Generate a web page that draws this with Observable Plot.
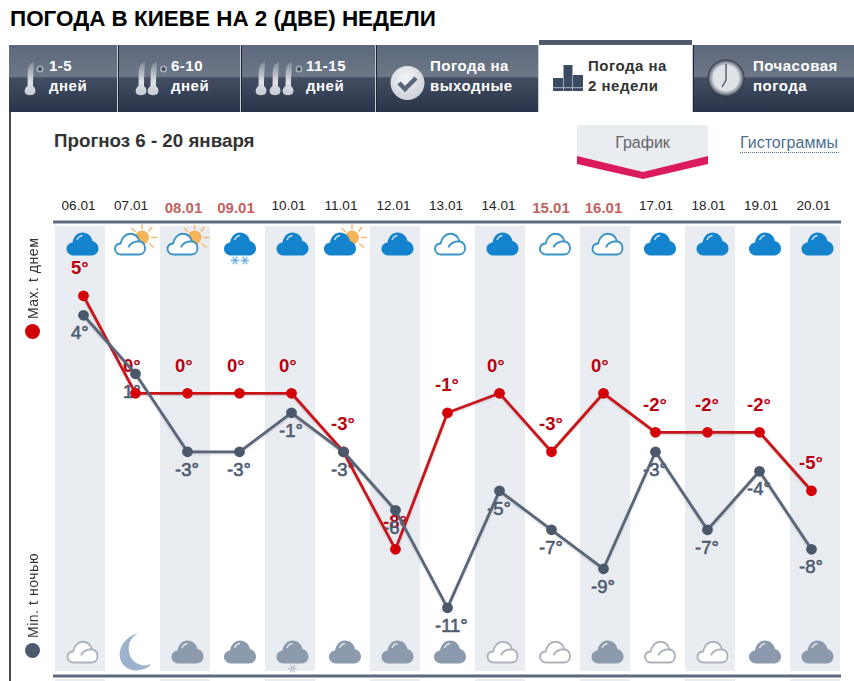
<!DOCTYPE html>
<html lang="ru">
<head>
<meta charset="utf-8">
<script src="https://cdn.jsdelivr.net/npm/d3@7"></script>
<script src="https://cdn.jsdelivr.net/npm/@observablehq/plot@0.6"></script>
<style>
html,body{margin:0;padding:0;background:#fff;}
#page{position:relative;width:854px;height:681px;overflow:hidden;font-family:"Liberation Sans",Arial,sans-serif;}
#page>svg,#page>div{position:absolute;}
h1{position:absolute;left:10px;top:6px;margin:0;font-size:22.45px;font-weight:bold;color:#000;line-height:26px;white-space:nowrap;}
.vlabel{left:25px;width:16px;writing-mode:vertical-rl;transform:rotate(180deg);font-size:14px;letter-spacing:.55px;color:#333;white-space:nowrap;line-height:16px;text-align:left;}
.ldot{left:25px;width:15px;height:15px;border-radius:50%;}
.tt{font:bold 15px "Liberation Sans",Arial,sans-serif;fill:#fff;letter-spacing:.5px;}
svg [aria-label="line"]{filter:drop-shadow(0 1.5px 1.2px rgba(40,50,70,.22));}
</style>
</head>
<body>
<div id="page">
<h1>ПОГОДА В КИЕВЕ НА 2 (ДВЕ) НЕДЕЛИ</h1>
<div style="left:9px;top:111px;width:1.5px;height:570px;background:#4a4a4a"></div>
<svg width="854" height="185" style="left:0;top:0">
 <defs>
  <linearGradient id="tab" x1="0" y1="0" x2="0" y2="1">
   <stop offset="0" stop-color="#5c687b"/><stop offset=".47" stop-color="#6d7788"/>
   <stop offset=".49" stop-color="#434e63"/><stop offset="1" stop-color="#293349"/>
  </linearGradient>
  <linearGradient id="th" x1="0" y1="0" x2="0" y2="1"><stop offset="0" stop-color="#7f8895"/><stop offset=".6" stop-color="#dfe2e6"/><stop offset="1" stop-color="#c6cbd2"/></linearGradient>
  <radialGradient id="ck" cx=".45" cy=".35" r=".7"><stop offset="0" stop-color="#f4f5f6"/><stop offset="1" stop-color="#c9ced5"/></radialGradient>
  <radialGradient id="cl" cx=".5" cy=".5" r=".5"><stop offset=".72" stop-color="#c9ced5"/><stop offset=".88" stop-color="#7f8692"/><stop offset="1" stop-color="#232b3a"/></radialGradient>
  <symbol id="therm" overflow="visible"><path d="M-2.5 21 C-2 12 -3 5 -1 1 C0 -1.5 2 -3 4 -3 C3.5 5 3 14 3 21 C5.5 23 6 25 5 28 C3.5 31 -3.5 31 -5 28 C-6 25 -5 23 -2.5 21Z" fill="url(#th)"/></symbol>
 </defs>
 <rect x="9" y="45" width="845" height="67" fill="url(#tab)"/>
 <g stroke="#c7ccd3" stroke-width="1"><path d="M117.5 45V112M240.5 45V112M375.5 45V112M538.5 45V112M692.5 45V112"/></g>
 <g stroke="#1f2738" stroke-width="1"><path d="M118.5 45V112M241.5 45V112M376.5 45V112M693.5 45V112"/></g>
 <rect x="539" y="45" width="153" height="68" fill="#fff"/>
 <rect x="539" y="40" width="153" height="5" fill="#4e5a6d"/>
 <g>
  <use href="#therm" x="30" y="65"/>
  <use href="#therm" x="141" y="65"/><use href="#therm" x="153" y="65"/>
  <use href="#therm" x="261" y="65"/><use href="#therm" x="275" y="65"/><use href="#therm" x="288" y="65"/>
  <g fill="#3f4a5c" stroke="#a9afb9" stroke-width="1.6"><circle cx="40" cy="69" r="2.7"/><circle cx="163.5" cy="69" r="2.7"/><circle cx="299" cy="69" r="2.7"/></g>
 </g>
 <circle cx="407.5" cy="83" r="17" fill="url(#ck)"/>
 <path d="M399 83l6 6 11-11" fill="none" stroke="#55657a" stroke-width="4.5"/>
 <g fill="#3a4a60"><rect x="553" y="78" width="10" height="13"/><rect x="563.5" y="65" width="9" height="26"/><rect x="573" y="75" width="10" height="16"/></g>
 <rect x="553" y="87" width="30" height="1.2" fill="#9ba5b2"/>
 <circle cx="726" cy="78" r="18.5" fill="url(#cl)"/>
 <circle cx="726" cy="78" r="13" fill="#dfe2e6"/>
 <path d="M726 64V80L722 87" fill="none" stroke="#5a6474" stroke-width="1.5"/>
 <g class="lbl">
  <text class="tt" x="49" y="71">1-5</text><text class="tt" x="49" y="90.5">дней</text>
  <text class="tt" x="171" y="71">6-10</text><text class="tt" x="171" y="90.5">дней</text>
  <text class="tt" x="306" y="71">11-15</text><text class="tt" x="306" y="90.5">дней</text>
  <text class="tt" x="430" y="71">Погода на</text><text class="tt" x="430" y="90.5">выходные</text>
  <text class="tt" x="588" y="71" style="fill:#333">Погода на</text><text class="tt" x="588" y="90.5" style="fill:#333">2 недели</text>
  <text class="tt" x="753" y="71">Почасовая</text><text class="tt" x="753" y="90.5">погода</text>
 </g>
 <text x="54" y="146.5" style="font:bold 18.75px 'Liberation Sans',Arial,sans-serif;fill:#333">Прогноз 6 - 20 января</text>
 <path d="M577 125H708V158L643 173L577 158Z" fill="#e9ecf1"/>
 <path d="M577 156L643 172L708 156V164L643 179L577 164Z" fill="#dc1a5e"/>
 <text x="642.5" y="148" text-anchor="middle" style="font:16px 'Liberation Sans',Arial,sans-serif;fill:#666">График</text>
 <text x="740" y="148" style="font:16px 'Liberation Sans',Arial,sans-serif;fill:#4d6f90">Гистограммы</text>
 <path d="M740 152.5H839" stroke="#4d6f90" stroke-width="1" stroke-dasharray="1 1"/>
</svg>
<div class="vlabel" style="top:238px;height:81px">Max. t днем</div>
<div class="ldot" style="top:323.5px;background:#cf0005"></div>
<div class="vlabel" style="top:555px;height:83px">Min. t ночью</div>
<div class="ldot" style="top:642.5px;background:#4c596e"></div>
</div>
<script>
const dates = ["06.01","07.01","08.01","09.01","10.01","11.01","12.01","13.01","14.01","15.01","16.01","17.01","18.01","19.01","20.01"];
const holidays = ["08.01","09.01","15.01","16.01"];
const maxTemp = [5,0,0,0,0,-3,-8,-1,0,-3,0,-2,-2,-2,-5];
const minTemp = [4,1,-3,-3,-1,-3,-6,-11,-5,-7,-9,-3,-7,-4,-8];
const dayIcons = ["fill","sunOutline","sunOutline","snow","fill","sunFill","fill","outline","fill","outline","outline","fill","fill","fill","fill"];
const nightIcons = ["nOutline","moon","nFill","nFill","nSnow","nFill","nFill","nFill","nOutline","nOutline","nFill","nOutline","nOutline","nFill","nFill"];

const cloud = "M7 23C3 23 0 20 0 16.5C0 13 2.5 10.5 6 10C7 4 11 0 16 0C21 0 25 3.5 26 8.5C29.5 9.5 32 12.5 32 16C32 20 29 23 25 23Z";
const outline = "M7 22C3.5 22 1 19.5 1 16.5C1 13.5 3.2 11.3 6.6 11C7.6 5.5 11.5 1.2 16 1.2C20.5 1.2 24.2 4.2 25.4 8.7C28.8 9.4 31 12.3 31 15.8C31 19.5 28.3 22 25 22ZM14.5 14.8C16 11 20 8.7 25.4 8.7";
const shine = "M10.5 7.5C11.5 5 13.5 3.4 16 3";
const flake = (x,y,c)=>`<g transform="translate(${x} ${y})" stroke="${c}" stroke-width="1.3" fill="none"><path d="M-4.2 0H4.2M-2.2 -3.8L2.2 3.8M-2.2 3.8L2.2 -3.8"/></g>`;
const sun = `<g stroke="#f7b973" stroke-width="1.6"><path d="M28 0V5M38 2.5L34.5 7M43 13H37M40 23L35 19M17.5 3.5L21.5 7.5"/></g><circle cx="28" cy="13" r="7" fill="#f6b458"/>`;
// every icon is a 48x48 box; plain clouds sit in its middle
const at = (dx,dy,s)=>`<g transform="translate(${dx} ${dy})">${s}</g>`;
const filled = (c)=>`<path d="${cloud}" fill="${c}"/><path d="${shine}" stroke="#fff" stroke-opacity=".75" stroke-width="1.4" fill="none"/>`;
const hollow = (c)=>`<path d="${outline}" fill="#fff" stroke="${c}" stroke-width="1.9"/>`;
const iconBody = {
  fill: at(8,12.5,filled("#1283cc")),
  outline: at(8,12.5,hollow("#3b93c8")),
  sunOutline: at(3,4.5,sun+at(0,8,hollow("#3b93c8"))),
  sunFill: at(3,4.5,sun+at(0,8,filled("#1283cc"))),
  snow: at(8,12.5,filled("#1283cc")+flake(11,28,"#6fb6e6")+flake(21,28,"#6fb6e6")),
  nFill: at(8,12.5,filled("#8b9aad")),
  nOutline: at(8,12.5,hollow("#adb3bd")),
  nSnow: at(8,12.5,filled("#8b9aad")+flake(16,28,"#bcc5d0")),
  moon: `<path d="M27 5C14 9 7 20 9 30C11 40 22 45 33 41C36 40 39 38 40 36C31 40 21 35 18.5 26C16 17 19 10 27 5Z" fill="#9db2cd"/>`
};
const iconSrc = k => "data:image/svg+xml," + encodeURIComponent(`<svg xmlns="http://www.w3.org/2000/svg" width="48" height="48" viewBox="0 0 48 48">${iconBody[k]}</svg>`);

const rows = dates.map((date,i)=>({date, i, max:maxTemp[i], min:minTemp[i], day:dayIcons[i], night:nightIcons[i]}));
const shaded = rows.filter(d=>d.i%2===0);
const bandScale = {type:"band", domain:dates, range:[53.75,841.25], paddingInner:0.0476, paddingOuter:0.0238, align:0.5, round:false, axis:null};
const font = "'Liberation Sans',Arial,sans-serif";
const page = document.getElementById("page");
const place = (el,top)=>{el.style.position="absolute";el.style.left="0";el.style.top=top+"px";el.style.background="transparent";page.appendChild(el);};

// background: day bands, dates, rules and weather icons
place(Plot.plot({
  width:854, height:681, marginLeft:54, marginRight:15, marginTop:226, marginBottom:10,
  x:bandScale, y:{axis:null},
  style:{background:"transparent", fontFamily:font},
  marks:[
    Plot.cell(shaded,{x:"date", fill:"#e9ecf1"}),
    Plot.frame({anchor:"top", stroke:"#5b6a7e", strokeWidth:3, dy:-4.5}),
    Plot.frame({anchor:"bottom", stroke:"#5b6a7e", strokeWidth:3, dy:4.5}),
    Plot.text(rows.filter(d=>!holidays.includes(d.date)),{x:"date", text:"date", frameAnchor:"top", dy:-26, dx:-2, fontSize:13.5, fill:"#222"}),
    Plot.text(rows.filter(d=>holidays.includes(d.date)),{x:"date", text:"date", frameAnchor:"top", dy:-24, dx:-2, fontSize:15, fontWeight:"bold", fill:"#c2625f"}),
    Plot.image(rows,{x:"date", src:d=>iconSrc(d.day), width:48, height:48, frameAnchor:"top", dy:17.5, dx:2}),
    Plot.image(rows,{x:"date", src:d=>iconSrc(d.night), width:48, height:48, frameAnchor:"bottom", dy:-19.5, dx:2})
  ]
}),0);

// bands of the next section, just visible under the lower rule
place(Plot.plot({
  width:854, height:2, margin:0, marginLeft:54, marginRight:15,
  x:bandScale, y:{axis:null}, style:{background:"transparent"},
  marks:[Plot.cell(shaded,{x:"date", fill:"#e9ecf1"})]
}),679);

// temperature series
const x = {type:"point", domain:dates, range:[82,812.7], padding:0, align:0.5, axis:null};
const y = {domain:[-11,5], range:[607.3,295.3], axis:null};
place(Plot.plot({
  width:854, height:681, margin:0, x, y,
  style:{background:"transparent", fontFamily:font},
  marks:[
    Plot.text(rows,{x:"date", y:"max", text:d=>d.max+"°", dy:-27.5, dx:-12.5, textAnchor:"start", fontSize:18.5, fontWeight:"bold", fill:"#b8000e"}),
    Plot.text(rows,{x:"date", y:"min", text:d=>d.min+"°", dy:18, dx:-12.5, textAnchor:"start", fontSize:18.5, fill:"#4f5c70", stroke:"#4f5c70", strokeWidth:0.6}),
    Plot.line(rows,{x:"date", y:"max", stroke:"#c9141a", strokeWidth:2.8, curve:"linear"}),
    Plot.dot(rows,{x:"date", y:"max", r:5.4, fill:"#d40008"}),
    Plot.line(rows,{x:"date", y:"min", stroke:"#5a6678", strokeWidth:2.8, curve:"linear"}),
    Plot.dot(rows,{x:"date", y:"min", r:5.4, fill:"#4b586c"})
  ]
}),0);
</script>
</body>
</html>
